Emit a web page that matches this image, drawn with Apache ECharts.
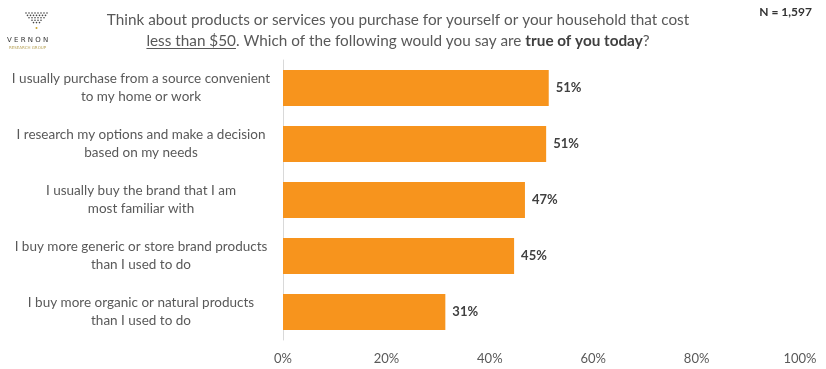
<!DOCTYPE html>
<html><head><meta charset="utf-8">
<script src="https://cdn.jsdelivr.net/npm/echarts@6/dist/echarts.min.js"></script>
<style>html,body{margin:0;padding:0;background:#fff}#c{width:826px;height:369px}</style>
</head><body><div id="c"></div>
<script>
const categories = [
  "I usually purchase from a source convenient\nto my home or work",
  "I research my options and make a decision\nbased on my needs",
  "I usually buy the brand that I am\nmost familiar with",
  "I buy more generic or store brand products\nthan I used to do",
  "I buy more organic or natural products\nthan I used to do"
];
const values = [51.4, 50.9, 46.8, 44.7, 31.4];
const titleLine1 = "Think about products or services you purchase for yourself or your household that cost";
const titleLine2Parts = ["less than $50", ". Which of the following would you say are ", "true of you today", "?"];
const sampleNote = "N = 1,597";
const logoRows = [8, 7, 6, 4, 3];

const FONT = "Lato";
const TFS = 15.3;
const TCX = 398;
const chart = echarts.init(document.getElementById('c'), null, {renderer: 'canvas'});

const graphic = [];
logoRows.forEach((n, r) => {
  const y = 13 + r * 2.4;
  const spacing = 3;
  const x0 = 36.5 - (n - 1) * spacing / 2;
  for (let i = 0; i < n; i++) {
    graphic.push({type: 'circle', shape: {cx: x0 + i * spacing, cy: y, r: 0.8}, style: {fill: '#444'}, silent: true});
  }
});
graphic.push({type: 'circle', shape: {cx: 36.5, cy: 28, r: 1}, style: {fill: '#c9a227'}, silent: true});
graphic.push({type: 'text', left: 7, top: 37, style: {text: 'V E R N O N', font: '7px "DejaVu Sans"', fill: '#333'}, silent: true});
graphic.push({type: 'text', left: 9, top: 46, style: {text: 'RESEARCH GROUP', font: '4px "DejaVu Sans"', fill: '#b9a45a'}, silent: true});
graphic.push({type: 'text', right: 14, top: 6, style: {text: sampleNote, font: 'bold 12px ' + FONT, fill: '#333'}, silent: true});

// title line 1
graphic.push({type: 'text', x: TCX, y: 20, style: {text: titleLine1, font: TFS + 'px ' + FONT, fill: '#595959', align: 'center', verticalAlign: 'middle'}, silent: true});
// title line 2, pieces positioned from measured widths
(function(){
  const ctx = document.createElement('canvas').getContext('2d');
  const fonts = [TFS + 'px ' + FONT, TFS + 'px ' + FONT, 'bold ' + TFS + 'px ' + FONT, TFS + 'px ' + FONT];
  const colors = ['#595959', '#595959', '#404040', '#595959'];
  const widths = titleLine2Parts.map((t, i) => { ctx.font = fonts[i]; return ctx.measureText(t).width; });
  const total = widths.reduce((a, b) => a + b, 0);
  let x = TCX - total / 2;
  titleLine2Parts.forEach((t, i) => {
    graphic.push({type: 'text', x: x, y: 41, style: {text: t, font: fonts[i], fill: colors[i], align: 'left', verticalAlign: 'middle'}, silent: true});
    if (i === 0) graphic.push({type: 'line', shape: {x1: x, y1: 48.5, x2: x + widths[0], y2: 48.5}, style: {stroke: '#595959', lineWidth: 1}, silent: true});
    x += widths[i];
  });
})();

chart.setOption({
  animation: false,
  textStyle: {fontFamily: FONT},
  graphic: graphic,
  grid: {left: 283, right: 26, top: 60, bottom: 29, containLabel: false},
  xAxis: {
    type: 'value', min: 0, max: 100, interval: 20,
    axisLabel: {formatter: '{value}%', color: '#595959', fontSize: 13, margin: 12, fontFamily: FONT},
    splitLine: {show: false}, axisLine: {show: false}, axisTick: {show: false}
  },
  yAxis: {
    type: 'category', data: categories, inverse: true,
    axisLine: {show: true, lineStyle: {color: '#d9d9d9', width: 1}},
    axisTick: {show: false},
    axisLabel: {color: '#595959', fontSize: 13.5, lineHeight: 18, align: 'center', margin: 142, fontFamily: FONT}
  },
  series: [{
    type: 'bar', data: values, barWidth: 36,
    itemStyle: {color: '#F7941D'},
    label: {show: true, position: 'right', distance: 7, color: '#404040', fontWeight: 'bold', fontSize: 13, fontFamily: FONT,
      formatter: p => Math.round(p.value) + '%'}
  }]
});
</script></body></html>
